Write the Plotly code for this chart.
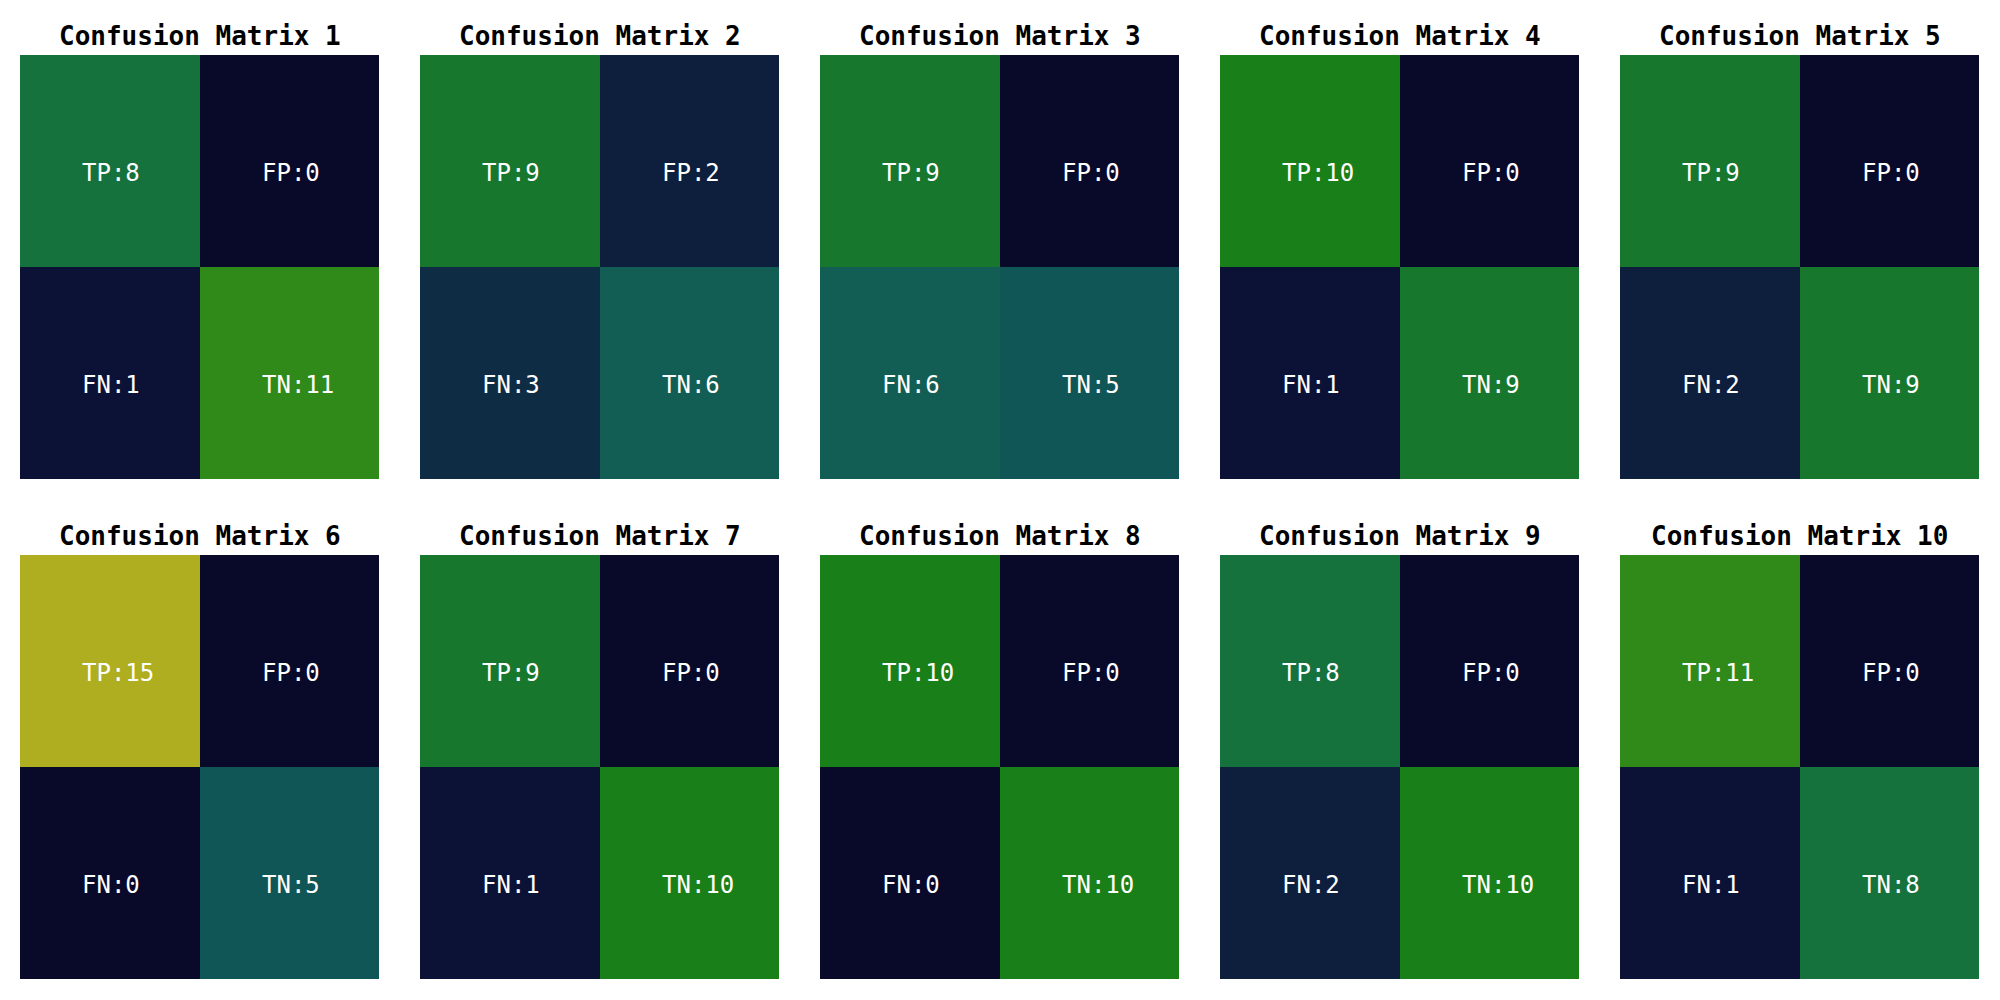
import plotly.graph_objects as go

titles = [f"Confusion Matrix {i}" for i in range(1, 11)]
tp = [8, 9, 9, 10, 9, 15, 9, 10, 8, 11]
fp = [0, 2, 0, 0, 0, 0, 0, 0, 0, 0]
fn = [1, 3, 6, 1, 2, 0, 1, 0, 2, 1]
tn = [11, 6, 5, 9, 9, 5, 10, 10, 10, 8]

cscale_vals = [0, 1, 2, 3, 5, 6, 8, 9, 10, 11, 15]
cscale_cols = ["#09092A", "#0B1235", "#0D1F3C", "#0E2D44", "#105656", "#125E54",
               "#15723D", "#17782D", "#198019", "#2F8A19", "#AFAD20"]
zmax = 15
colorscale = [[v / zmax, c] for v, c in zip(cscale_vals, cscale_cols)]

fig = go.Figure()
W, H = 2000, 1000
for i in range(10):
    r, c = divmod(i, 5)
    x0 = (20 + 400 * c) / W
    x1 = (379 + 400 * c) / W
    ytop = 55 + 500 * r
    ybot = 479 + 500 * r
    y0 = 1 - ybot / H
    y1 = 1 - ytop / H
    n = i + 1
    xa = "x" if n == 1 else f"x{n}"
    ya = "y" if n == 1 else f"y{n}"
    z = [[tp[i], fp[i]], [fn[i], tn[i]]]
    text = [[f"TP:{tp[i]}", f"FP:{fp[i]}"], [f"FN:{fn[i]}", f"TN:{tn[i]}"]]
    fig.add_trace(go.Heatmap(
        z=z, x=[0, 1], y=[0, 1],
        colorscale=colorscale, zmin=0, zmax=zmax, showscale=False,
        xaxis=xa, yaxis=ya, xgap=0, ygap=0, hoverinfo="skip"))
    axk = "xaxis" if n == 1 else f"xaxis{n}"
    ayk = "yaxis" if n == 1 else f"yaxis{n}"
    fig.layout[axk] = dict(domain=[x0, x1], range=[-0.5, 1.5], visible=False,
                           anchor=ya, fixedrange=True)
    fig.layout[ayk] = dict(domain=[y0, y1], range=[1.5, -0.5], visible=False,
                           anchor=xa, fixedrange=True)
    for rr in range(2):
        for cc in range(2):
            fig.add_annotation(text=text[rr][cc], x=cc - 0.165, y=rr,
                               xref=xa, yref=ya, xanchor="left", yanchor="middle",
                               yshift=-12, showarrow=False,
                               font=dict(family="DejaVu Sans Mono", size=24, color="white"))
    fig.add_annotation(text=f"<b>{titles[i]}</b>", x=(x0 + x1) / 2,
                       y=1 - (36 + 500 * r) / H, xref="paper", yref="paper",
                       xanchor="center", yanchor="middle", showarrow=False,
                       font=dict(family="DejaVu Sans Mono", size=26, color="black"))

fig.update_layout(width=W, height=H, margin=dict(l=0, r=0, t=0, b=0),
                  paper_bgcolor="white", plot_bgcolor="white")
fig.write_html("out.html")
